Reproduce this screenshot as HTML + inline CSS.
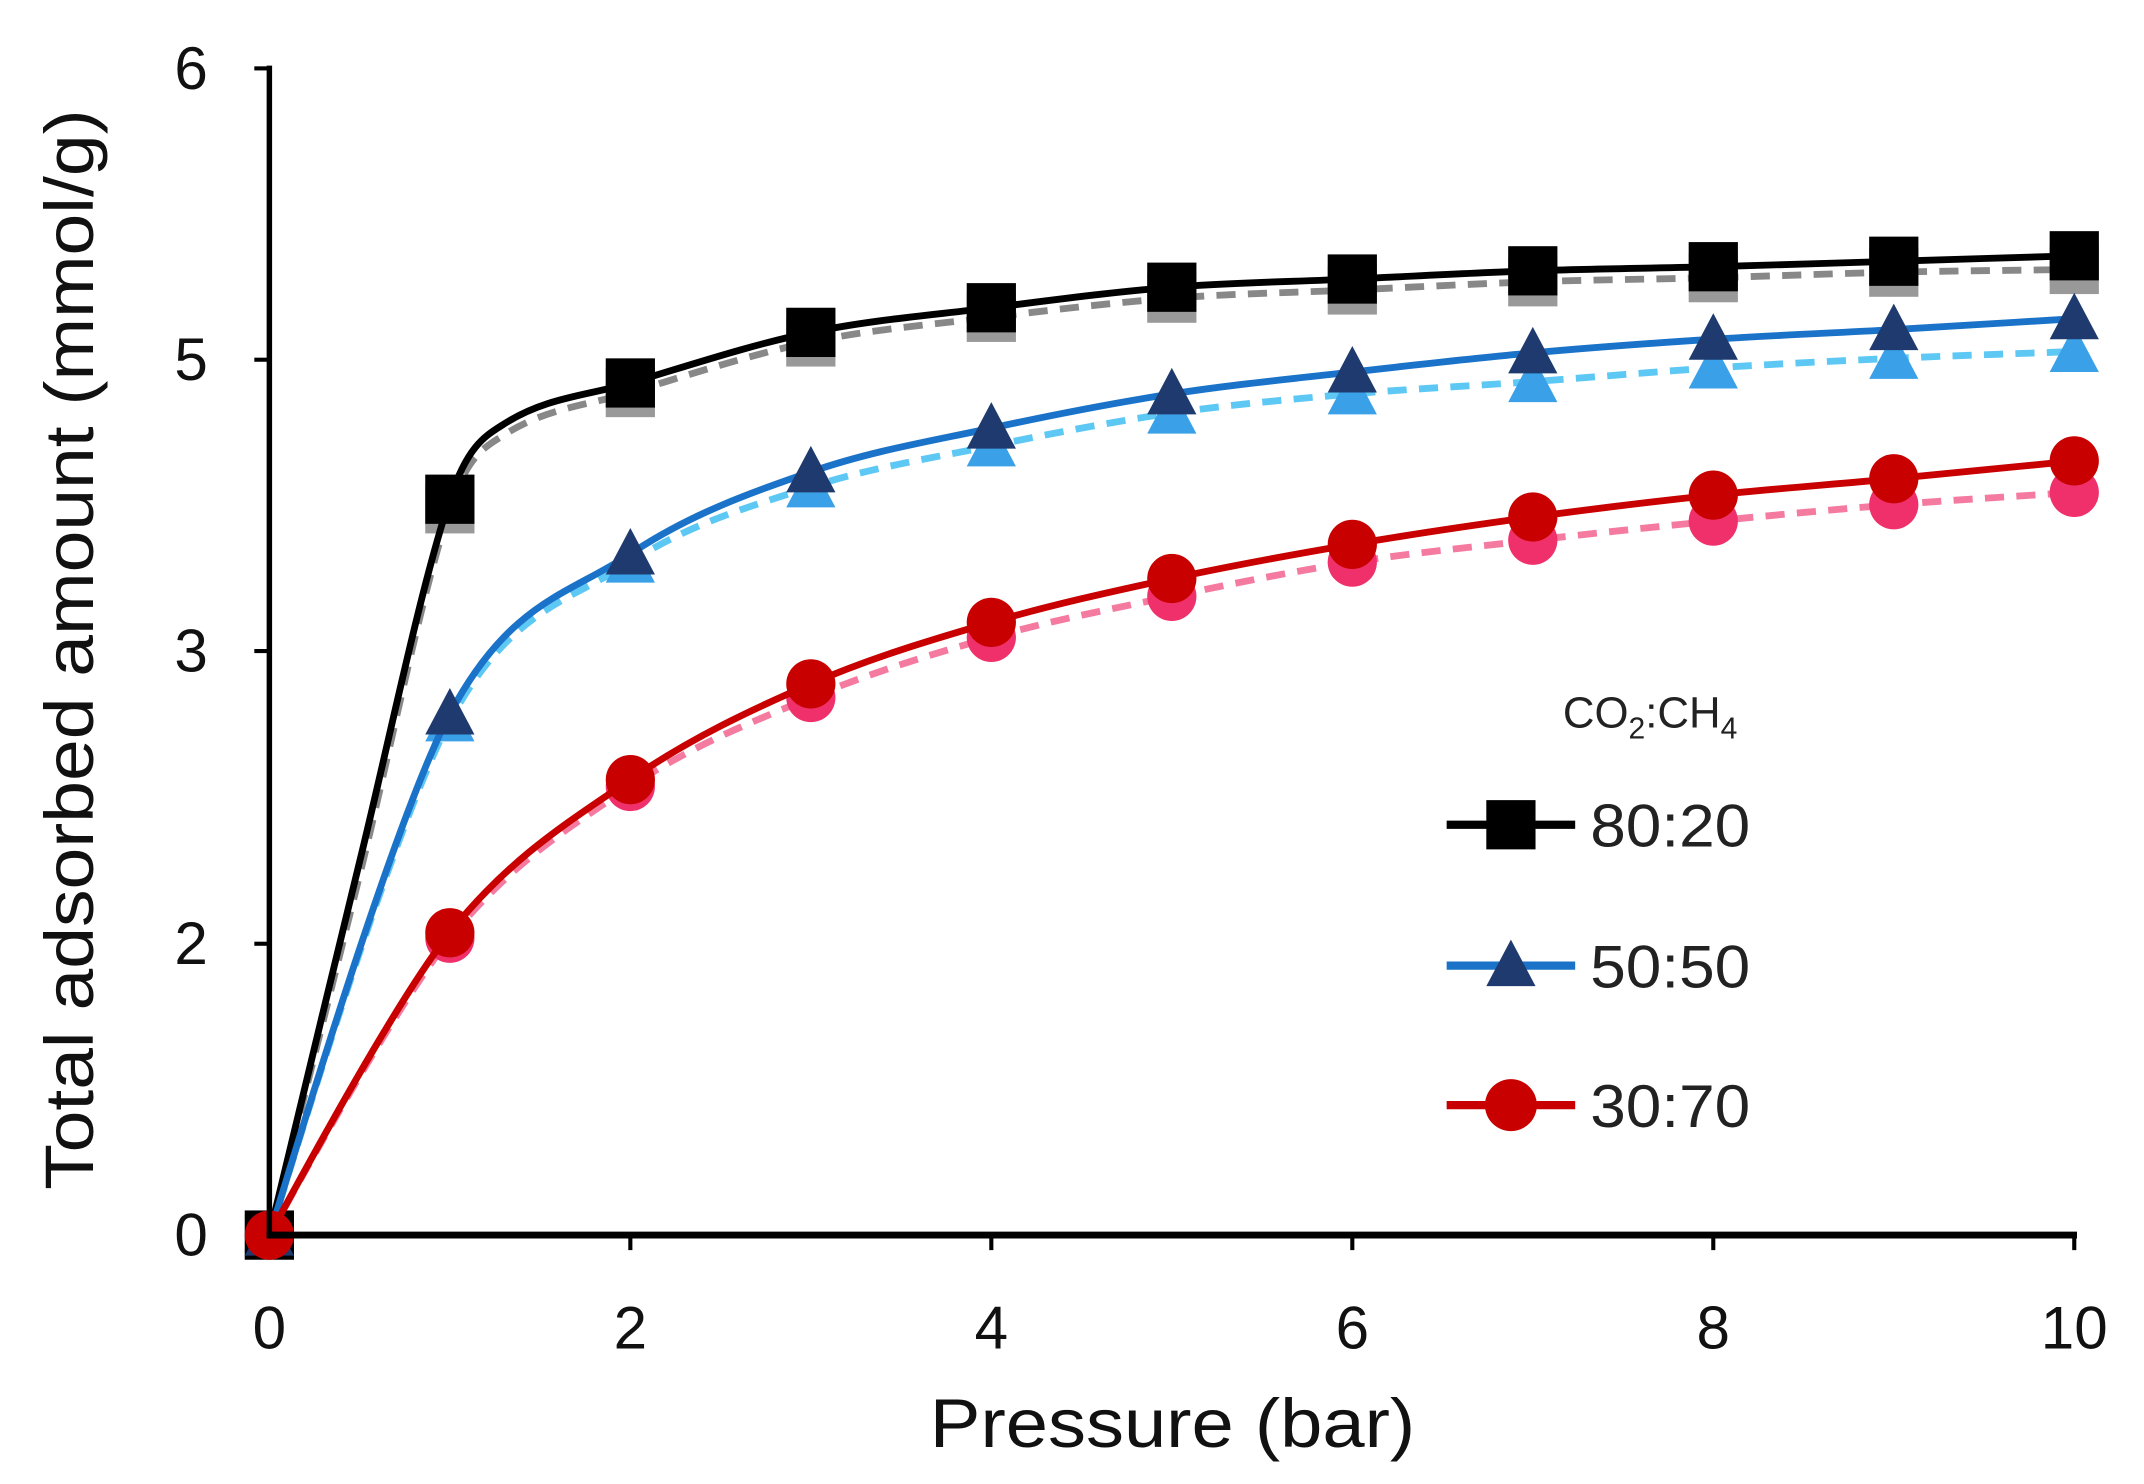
<!DOCTYPE html>
<html><head><meta charset="utf-8"><style>html,body{margin:0;padding:0;background:#fff}svg{display:block}</style></head>
<body>
<svg id="s" width="2144" height="1484" viewBox="0 0 1568 1085" preserveAspectRatio="none" xmlns="http://www.w3.org/2000/svg" font-family="Liberation Sans, sans-serif">
<rect width="1568" height="1085" fill="#fff"/>
<g id="plot"></g>
<line x1="197" y1="48" x2="197" y2="905" stroke="#000" stroke-width="4"/>
<line x1="195" y1="903" x2="1519" y2="903" stroke="#000" stroke-width="5"/>
<g stroke="#000" stroke-width="3">
<line x1="186" y1="50" x2="197" y2="50"/><line x1="186" y1="263" x2="197" y2="263"/><line x1="186" y1="476" x2="197" y2="476"/><line x1="186" y1="690" x2="197" y2="690"/>
<line x1="461" y1="903" x2="461" y2="914"/><line x1="725" y1="903" x2="725" y2="914"/><line x1="989" y1="903" x2="989" y2="914"/><line x1="1253" y1="903" x2="1253" y2="914"/><line x1="1517" y1="903" x2="1517" y2="914"/>
</g>
<g font-size="44" fill="#111" text-anchor="end">
<text x="152" y="65">6</text><text x="152" y="278">5</text><text x="152" y="491">3</text><text x="152" y="705">2</text><text x="152" y="918">0</text>
</g>
<g font-size="44" fill="#111" text-anchor="middle">
<text x="197" y="986">0</text><text x="461" y="986">2</text><text x="725" y="986">4</text><text x="989" y="986">6</text><text x="1253" y="986">8</text><text x="1517" y="986">10</text>
</g>
<text x="680" y="1058" font-size="50" fill="#111" textLength="355" lengthAdjust="spacingAndGlyphs">Pressure (bar)</text>
<text transform="translate(68,870) rotate(-90)" font-size="50" fill="#111" textLength="790" lengthAdjust="spacingAndGlyphs">Total adsorbed amount  (mmol/g)</text>
<text x="1143" y="532" font-size="32" fill="#222">CO<tspan font-size="22" dy="8">2</tspan><tspan dy="-8">:CH</tspan><tspan font-size="22" dy="8">4</tspan></text>
<g font-size="44" fill="#222">
<line x1="1058" y1="603" x2="1152" y2="603" stroke="#000" stroke-width="6"/>
<rect x="1087" y="585" width="36" height="36" fill="#000"/>
<text x="1163" y="619" textLength="117" lengthAdjust="spacingAndGlyphs">80:20</text>
<line x1="1058" y1="706" x2="1152" y2="706" stroke="#1a73c8" stroke-width="6"/>
<polygon points="1105,687 1123,721 1087,721" fill="#1f3a6e"/>
<text x="1163" y="722" textLength="117" lengthAdjust="spacingAndGlyphs">50:50</text>
<line x1="1058" y1="808" x2="1152" y2="808" stroke="#c80000" stroke-width="6"/>
<circle cx="1105" cy="808" r="19" fill="#c80000"/>
<text x="1163" y="824" textLength="117" lengthAdjust="spacingAndGlyphs">30:70</text>
</g>
</svg>
<script>
(function(){
var X=function(p){return 197+132*p;};
var S=[
 {c:'#888',d:true,y:[903,372,287,250,232,218,212,206,203,199,197],ex:[[0.5,640],[1.3,318]],m:'sq',mc:'#999'},
 {c:'#5ec8f5',d:true,y:[903,527,411,356,326,302,288,279,269,262,257],m:'tri',mc:'#3aa0e8'},
 {c:'#f57aa0',d:true,y:[903,686,575,510,466,436,411,395,381,369,360],m:'ci',mc:'#f0306a'},
 {c:'#000',d:false,y:[903,365,280,243,225,210,204,198,195,191,187],ex:[[0.5,630],[1.3,310]],m:'sq',mc:'#000'},
 {c:'#1a73c8',d:false,y:[903,522,405,345,313,288,272,258,248,241,233],m:'tri',mc:'#1f3a6e'},
 {c:'#c80000',d:false,y:[903,682,570,500,455,423,398,378,362,350,337],m:'ci',mc:'#c80000'}
];
var g=document.getElementById('plot'),h='';
S.forEach(function(s){
 var M=s.y.map(function(y,i){return [X(i),y];});
 var P=M.slice();
 if(s.ex){s.ex.forEach(function(e){P.push([X(e[0]),e[1]]);});P.sort(function(a,b){return a[0]-b[0];});}
 var d='M'+P[0][0]+','+P[0][1];
 for(var i=0;i<P.length-1;i++){
  var p0=P[i-1]||P[i],p1=P[i],p2=P[i+1],p3=P[i+2]||P[i+1];
  var dx=p2[0]-p1[0];
  var t1=[(p2[0]-p0[0]),(p2[1]-p0[1])],t2=[(p3[0]-p1[0]),(p3[1]-p1[1])];
  var k1=(i==0)?0.05:dx/(3*(t1[0]||1)),k2=dx/(3*(t2[0]||1));
  d+=' C'+(p1[0]+t1[0]*k1)+','+(p1[1]+t1[1]*k1)+' '+(p2[0]-t2[0]*k2)+','+(p2[1]-t2[1]*k2)+' '+p2[0]+','+p2[1];
 }
 h+='<path d="'+d+'" fill="none" stroke="'+s.c+'" stroke-width="5"'+(s.d?' stroke-dasharray="14,9"':'')+'/>';
 M.forEach(function(p){
  if(s.m=='sq')h+='<rect x="'+(p[0]-18)+'" y="'+(p[1]-18)+'" width="36" height="36" fill="'+s.mc+'"/>';
  else if(s.m=='tri')h+='<polygon points="'+p[0]+','+(p[1]-19)+' '+(p[0]+18)+','+(p[1]+15)+' '+(p[0]-18)+','+(p[1]+15)+'" fill="'+s.mc+'"/>';
  else h+='<circle cx="'+p[0]+'" cy="'+p[1]+'" r="18" fill="'+s.mc+'"/>';
 });
});
g.innerHTML=h;
})();
</script>
</body></html>
